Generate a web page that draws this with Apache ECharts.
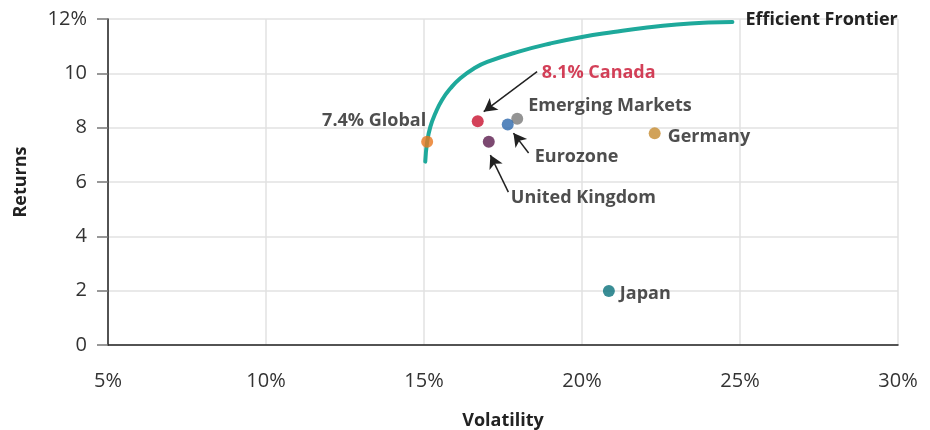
<!DOCTYPE html>
<html>
<head>
<meta charset="utf-8">
<script src="https://cdn.jsdelivr.net/npm/echarts@6/dist/echarts.min.js"></script>
<style>
  html, body { margin: 0; padding: 0; background: #fff; }
  #chart { width: 930px; height: 430px; }
</style>
</head>
<body>
<div id="chart"></div>
<script>
// data (volatility %, returns %)
var countries = ['Global', 'Canada', 'Emerging Markets', 'Eurozone', 'United Kingdom', 'Germany', 'Japan'];
var pointLabels = ['7.4% Global', '8.1% Canada', 'Emerging Markets', 'Eurozone', 'United Kingdom', 'Germany', 'Japan'];
var volatility = [15.1, 16.7, 17.95, 17.65, 17.05, 22.3, 20.85];
var returns = [7.48, 8.24, 8.33, 8.12, 7.48, 7.79, 1.99];

var frontierVol = [15.04, 15.1, 15.2, 15.36, 15.57, 15.84, 16.15, 16.58, 17, 18, 19, 20, 21, 22, 23, 24, 24.76];
var frontierRet = [6.75, 7.48, 8.03, 8.53, 9.02, 9.45, 9.82, 10.18, 10.42, 10.8, 11.1, 11.34, 11.52, 11.68, 11.8, 11.87, 11.89];

var xTicks = [5, 10, 15, 20, 25, 30];
var yTicks = [0, 2, 4, 6, 8, 10, 12];

// arrows: [from, to] in data units
var arrows = [
  [[18.58, 10.06], [16.89, 8.59]],
  [[18.31, 7.07], [17.83, 7.80]],
  [[17.67, 5.63], [17.10, 6.99]]
];

var colors = ['#E8771E', '#C8102E', '#797979', '#2C68AC', '#5B1C4E', '#C68B30', '#08707A'];
var labelPos = [
  { position: 'left', offset: [10, -21] },
  { position: 'right', offset: [53, -48], color: '#C8102E' },
  { position: 'right', offset: [0, -13] },
  { position: 'right', offset: [16, 32] },
  { position: 'right', offset: [11, 56] },
  { position: 'right', offset: [2, 4] },
  { position: 'right', offset: [0, 3] }
];

var font = '"Open Sans", "Noto Sans", sans-serif';

var points = countries.map(function (c, i) {
  var lp = labelPos[i];
  return {
    name: c,
    value: [volatility[i], returns[i]],
    itemStyle: { color: colors[i] },
    label: {
      show: true,
      formatter: pointLabels[i],
      position: lp.position,
      offset: lp.offset,
      color: lp.color || '#222',
      fontWeight: 'bold',
      fontSize: 18,
      fontFamily: font
    }
  };
});

var frontier = frontierVol.map(function (v, i) { return [v, frontierRet[i]]; });

var chart = echarts.init(document.getElementById('chart'));
var option = {
  animation: false,
  grid: { left: 108, right: 32, top: 19, bottom: 85, containLabel: false, outerBoundsMode: 'none' },
  xAxis: {
    type: 'value',
    min: xTicks[0], max: xTicks[xTicks.length - 1], interval: 5,
    name: 'Volatility',
    nameLocation: 'middle',
    nameGap: 67,
    nameTextStyle: { fontWeight: 'bold', fontSize: 18, color: '#222', fontFamily: font },
    axisLine: { show: true, lineStyle: { color: '#222', width: 1.5 } },
    axisTick: { show: false },
    axisLabel: { margin: 26, fontSize: 20, color: '#333', fontFamily: font, formatter: '{value}%' },
    splitLine: { show: true, lineStyle: { color: '#e2e2e2', width: 1.5 } }
  },
  yAxis: {
    type: 'value',
    min: yTicks[0], max: yTicks[yTicks.length - 1], interval: 2,
    name: 'Returns',
    nameLocation: 'middle',
    nameGap: 78,
    nameTextStyle: { fontWeight: 'bold', fontSize: 18, color: '#222', fontFamily: font },
    axisLine: { show: true, lineStyle: { color: '#222', width: 1.5 } },
    axisTick: { show: true, inside: false, length: 11, lineStyle: { color: '#777', width: 1.5 } },
    axisLabel: {
      margin: 21, fontSize: 20, color: '#333', fontFamily: font,
      formatter: function (v) { return v === 12 ? '12%' : String(v); }
    },
    splitLine: { show: true, lineStyle: { color: '#e2e2e2', width: 1.5 } }
  },
  series: [
    {
      name: 'Efficient Frontier',
      type: 'line',
      data: frontier,
      smooth: true,
      showSymbol: false,
      symbol: 'none',
      lineStyle: { color: '#1EA99B', width: 4, cap: 'round' },
      endLabel: {
        show: true,
        formatter: 'Efficient Frontier',
        distance: 13,
        offset: [0, -2],
        color: '#222',
        fontWeight: 'bold',
        fontSize: 18,
        fontFamily: font
      },
      z: 2
    },
    {
      name: 'Markets',
      type: 'scatter',
      data: points,
      symbolSize: 12,
      z: 3,
      markLine: {
        silent: true,
        symbol: ['none', 'arrow'],
        symbolSize: [11, 13],
        label: { show: false },
        lineStyle: { color: '#222', width: 1.5, type: 'solid' },
        data: arrows.map(function (a) {
          return [{ coord: a[0] }, { coord: a[1] }];
        })
      }
    }
  ]
};
chart.setOption(option);
</script>
</body>
</html>
